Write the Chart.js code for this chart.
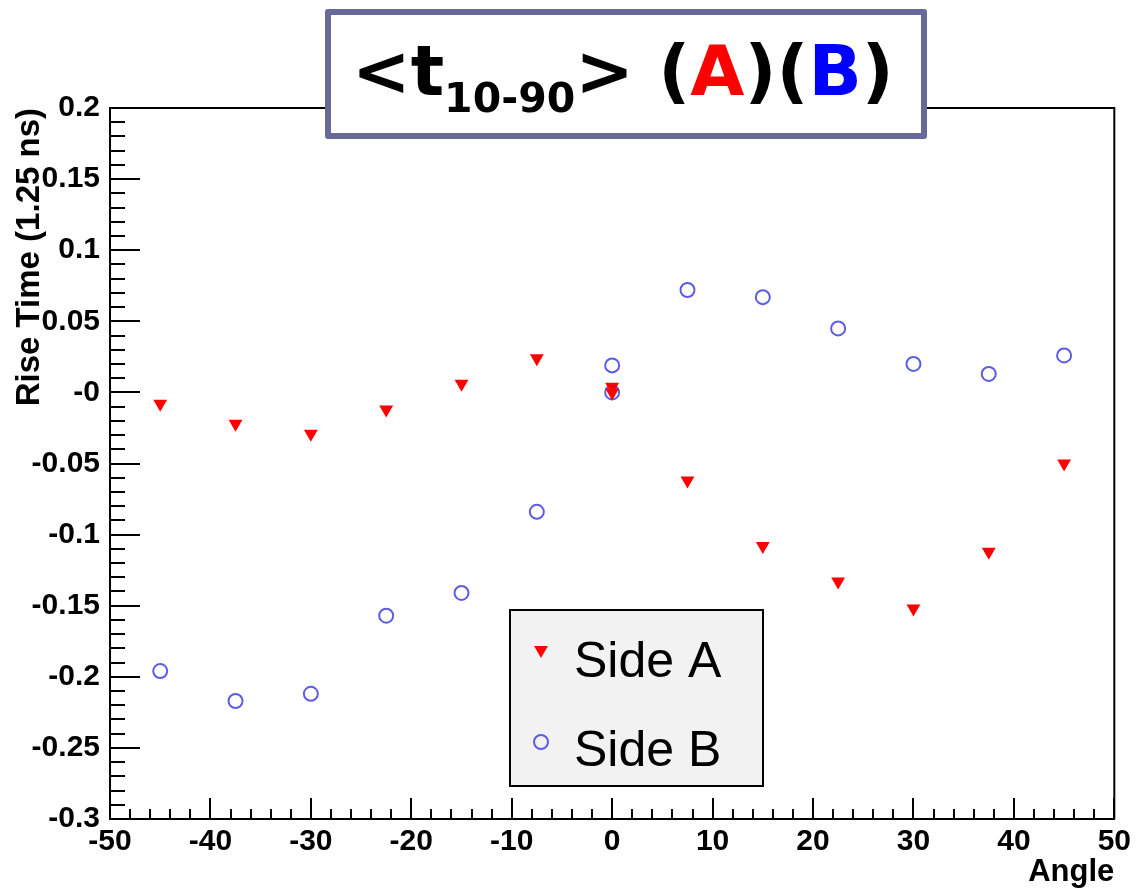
<!DOCTYPE html>
<html>
<head>
<meta charset="utf-8">
<title>Rise time vs angle</title>
<script src="https://cdn.jsdelivr.net/npm/chart.js@4.4.0/dist/chart.umd.min.js"></script>
<style>
  html, body { margin: 0; padding: 0; background: #fff; }
  #wrap { width: 1136px; height: 891px; }
</style>
</head>
<body>
<div id="wrap"><canvas id="riseChart" width="1136" height="891"></canvas></div>
<script>
// mean 10-90% rise time per angle, both sides
const anglesA = [-45, -37.5, -30, -22.5, -15, -7.5, 0, 0, 7.5, 15, 22.5, 30, 37.5, 45];
const riseA = [-0.008, -0.022, -0.029, -0.012, 0.006, 0.024, 0.004, 0.000, -0.062, -0.108, -0.133, -0.152, -0.112, -0.050];
const anglesB = [-45, -37.5, -30, -22.5, -15, -7.5, 0, 0, 7.5, 15, 22.5, 30, 37.5, 45];
const riseB = [-0.196, -0.217, -0.212, -0.157, -0.141, -0.084, 0.019, 0.000, 0.072, 0.067, 0.045, 0.020, 0.013, 0.026];

const xTickLabels = ['-50', '-40', '-30', '-20', '-10', '0', '10', '20', '30', '40', '50'];
const yTickLabels = ['-0.3', '-0.25', '-0.2', '-0.15', '-0.1', '-0.05', '-0', '0.05', '0.1', '0.15', '0.2'];
const seriesNames = ['Side A', 'Side B'];

const RED = '#ff0000';
const BLUE_RING = '#5c5ce6';
const SANS = '"Liberation Sans", Arial, Helvetica, sans-serif';

function toPoints(xs, ys) {
  return xs.map((x, i) => ({ x: x, y: ys[i] }));
}

// ROOT-like frame: inward ticks, full box, legend and title pave
const rootStyle = {
  id: 'rootStyle',
  beforeDatasetsDraw(chart) {
    const ctx = chart.ctx;
    const a = chart.chartArea;
    const xs = chart.scales.x;
    const ys = chart.scales.y;
    ctx.save();
    ctx.strokeStyle = '#000';
    ctx.lineWidth = 2;
    ctx.beginPath();
    ctx.moveTo(a.left, a.top);
    ctx.lineTo(a.right, a.top);
    ctx.lineTo(a.right, a.bottom);
    ctx.stroke();

    // x ticks every 2, major every 10
    for (let k = 0; k <= 50; k++) {
      const v = -50 + k * 2;
      const px = Math.round(xs.getPixelForValue(v));
      const len = k % 5 === 0 ? 21 : 10;
      ctx.beginPath();
      ctx.moveTo(px, a.bottom);
      ctx.lineTo(px, a.bottom - len);
      ctx.stroke();
    }
    // y ticks every 0.01, major every 0.05
    for (let k = 0; k <= 50; k++) {
      const v = -0.3 + k * 0.01;
      const py = Math.round(ys.getPixelForValue(v));
      const len = k % 5 === 0 ? 30 : 15;
      ctx.beginPath();
      ctx.moveTo(a.left, py);
      ctx.lineTo(a.left + len, py);
      ctx.stroke();
    }
    ctx.restore();
  },
  afterDraw(chart) {
    const ctx = chart.ctx;
    const dsA = chart.data.datasets[0];
    const dsB = chart.data.datasets[1];

    // legend box
    ctx.save();
    ctx.fillStyle = '#f2f2f2';
    ctx.fillRect(510, 610, 253, 176);
    ctx.strokeStyle = '#000';
    ctx.lineWidth = 2;
    ctx.strokeRect(510, 610, 253, 176);

    // Side A marker (downward triangle)
    const r = dsA.pointRadius;
    const cx = 541, cyA = 650;
    ctx.fillStyle = dsA.backgroundColor;
    ctx.beginPath();
    ctx.moveTo(cx, cyA + r);
    ctx.lineTo(cx - r * Math.sin(Math.PI / 3), cyA - r / 2);
    ctx.lineTo(cx + r * Math.sin(Math.PI / 3), cyA - r / 2);
    ctx.closePath();
    ctx.fill();

    // Side B marker (open circle)
    ctx.strokeStyle = dsB.borderColor;
    ctx.lineWidth = dsB.borderWidth;
    ctx.beginPath();
    ctx.arc(cx, 742, dsB.pointRadius, 0, Math.PI * 2);
    ctx.stroke();

    ctx.fillStyle = '#000';
    ctx.font = '50px ' + SANS;
    ctx.textAlign = 'left';
    ctx.textBaseline = 'alphabetic';
    ctx.fillText(seriesNames[0], 574, 677);
    ctx.fillText(seriesNames[1], 574, 766);
    ctx.restore();

    // title pave
    ctx.save();
    ctx.fillStyle = '#fff';
    ctx.fillRect(328, 12, 596, 124);
    ctx.strokeStyle = '#686899';
    ctx.lineWidth = 6;
    ctx.lineJoin = 'round';
    ctx.strokeRect(328, 12, 596, 124);

    const big = 'bold 70px "DejaVu Sans", sans-serif';
    const small = 'bold 41px "DejaVu Sans", sans-serif';
    const parts = [
      { t: '<t', f: big, c: '#000', y: 95 },
      { t: '10-90', f: small, c: '#000', y: 112 },
      { t: '> (', f: big, c: '#000', y: 95 },
      { t: 'A', f: big, c: RED, y: 95 },
      { t: ')(', f: big, c: '#000', y: 95 },
      { t: 'B', f: big, c: '#0000ff', y: 95 },
      { t: ')', f: big, c: '#000', y: 95 }
    ];
    let x = 352;
    ctx.textAlign = 'left';
    ctx.textBaseline = 'alphabetic';
    parts.forEach(p => {
      ctx.font = p.f;
      ctx.fillStyle = p.c;
      ctx.fillText(p.t, x, p.y);
      x += ctx.measureText(p.t).width;
    });
    ctx.restore();
  }
};

const ctx = document.getElementById('riseChart').getContext('2d');
const riseChart = new Chart(ctx, {
  type: 'scatter',
  data: {
    datasets: [
      {
        label: seriesNames[0],
        data: toPoints(anglesA, riseA),
        pointStyle: 'triangle',
        rotation: 180,
        pointRadius: 8,
        backgroundColor: RED,
        borderColor: RED,
        borderWidth: 0
      },
      {
        label: seriesNames[1],
        data: toPoints(anglesB, riseB),
        pointStyle: 'circle',
        pointRadius: 7,
        backgroundColor: 'rgba(0,0,0,0)',
        borderColor: BLUE_RING,
        borderWidth: 2
      }
    ]
  },
  options: {
    responsive: false,
    animation: false,
    devicePixelRatio: 1,
    layout: { padding: { top: 108, right: 18, left: 0, bottom: 0 } },
    plugins: {
      legend: { display: false },
      tooltip: { enabled: false }
    },
    scales: {
      x: {
        type: 'linear',
        min: -50,
        max: 50,
        afterFit: s => { s.height = 72; },
        grid: { display: false, drawTicks: false },
        border: { display: true, color: '#000', width: 2 },
        ticks: {
          stepSize: 10,
          padding: 5,
          color: '#000',
          maxRotation: 0,
          autoSkip: false,
          font: { family: SANS, weight: 'bold', size: 30 },
          callback: (v, i) => xTickLabels[i]
        },
        title: {
          display: true,
          text: 'Angle',
          align: 'end',
          color: '#000',
          font: { family: SANS, weight: 'bold', size: 31 },
          padding: { top: 0, bottom: 0 }
        }
      },
      y: {
        type: 'linear',
        min: -0.3,
        max: 0.2,
        afterFit: s => { s.width = 110; },
        grid: { display: false, drawTicks: false },
        border: { display: true, color: '#000', width: 2 },
        ticks: {
          stepSize: 0.05,
          padding: 10,
          color: '#000',
          autoSkip: false,
          font: { family: SANS, weight: 'bold', size: 30 },
          callback: (v, i) => yTickLabels[i]
        },
        title: {
          display: true,
          text: 'Rise Time (1.25 ns)',
          align: 'end',
          color: '#000',
          font: { family: SANS, weight: 'bold', size: 33 },
          padding: { top: 10, bottom: 0 }
        }
      }
    }
  },
  plugins: [rootStyle]
});
</script>
</body>
</html>
